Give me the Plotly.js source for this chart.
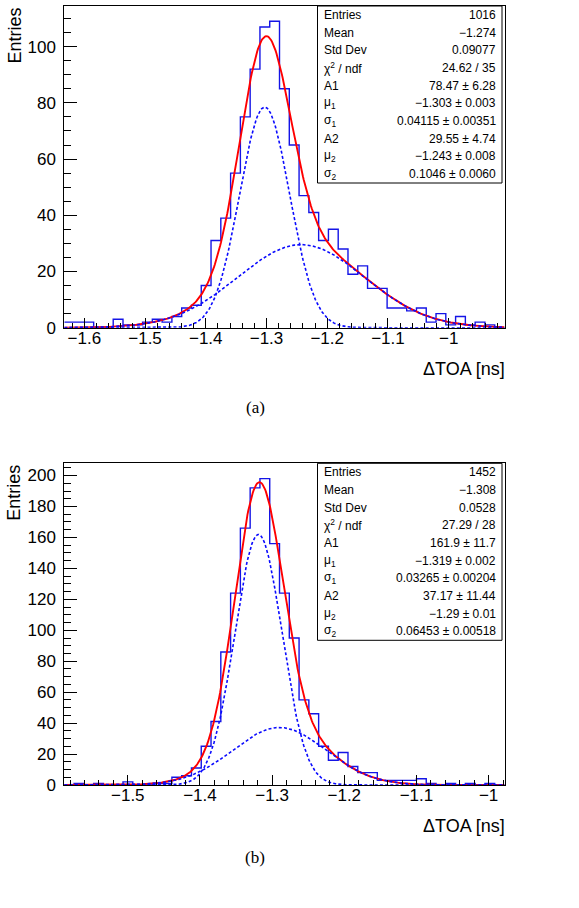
<!DOCTYPE html>
<html>
<head>
<meta charset="utf-8">
<script src="https://cdn.plot.ly/plotly-3.0.1.min.js"></script>
<style>
  html, body { margin: 0; padding: 0; background: #ffffff; }
  #chart { width: 579px; height: 908px; }
</style>
</head>
<body>
<div id="chart"></div>
<script>
// ---- Histogram (a): ΔTOA distribution, 45 equal bins ----
const loA = -1.633;
const hiA = -0.908;
const countsA = [2, 2, 2, 0, 0, 3, 1, 1, 2, 3,
                 2, 4, 7, 8, 15, 31, 39, 55, 75, 92,
                 107, 109, 85, 65, 47, 41, 31, 35, 28, 19,
                 22, 14, 14, 7, 7, 6, 7, 2, 5, 1,
                 4, 1, 2, 1, 0];
// double-Gaussian fit parameters: A1, mu1, sigma1, A2, mu2, sigma2
const fitA = [78.47, -1.303, 0.04115, 29.55, -1.243, 0.1046];
const statsA = ['1016', '\u22121.274', '0.09077', '24.62 / 35',
                '78.47 \u00b1 6.28', '\u22121.303 \u00b1 0.003', '0.04115 \u00b1 0.00351',
                '29.55 \u00b1 4.74', '\u22121.243 \u00b1 0.008', '0.1046 \u00b1 0.0060'];

// ---- Histogram (b) ----
const loB = -1.588;
const hiB = -0.978;
const countsB = [0, 1, 0, 1, 0, 0, 2, 0, 0, 1,
                 1, 5, 6, 11, 25, 41, 86, 124, 166, 192,
                 198, 156, 124, 95, 55, 46, 25, 16, 21, 12,
                 8, 8, 3, 3, 3, 3, 4, 1, 0, 1,
                 0, 1, 0, 1, 0];
const fitB = [161.9, -1.319, 0.03265, 37.17, -1.29, 0.06453];
const statsB = ['1452', '\u22121.308', '0.0528', '27.29 / 28',
                '161.9 \u00b1 11.7', '\u22121.319 \u00b1 0.002', '0.03265 \u00b1 0.00204',
                '37.17 \u00b1 11.44', '\u22121.29 \u00b1 0.01', '0.06453 \u00b1 0.00518'];

// ---- shared labels ----
const statLabels = ['Entries', 'Mean', 'Std Dev', '\u03c7<sup>2</sup> / ndf',
                    'A1', '\u03bc<sub>1</sub>', '\u03c3<sub>1</sub>',
                    'A2', '\u03bc<sub>2</sub>', '\u03c3<sub>2</sub>'];
const xTicksA = [-1.6, -1.5, -1.4, -1.3, -1.2, -1.1, -1.0];
const xTickTextA = ['\u22121.6', '\u22121.5', '\u22121.4', '\u22121.3', '\u22121.2', '\u22121.1', '\u22121'];
const xTicksB = [-1.5, -1.4, -1.3, -1.2, -1.1, -1.0];
const xTickTextB = ['\u22121.5', '\u22121.4', '\u22121.3', '\u22121.2', '\u22121.1', '\u22121'];
const yTicksA = [0, 20, 40, 60, 80, 100];
const yTicksB = [0, 20, 40, 60, 80, 100, 120, 140, 160, 180, 200];
const xTitle = '\u0394TOA [ns]';
const yTitle = 'Entries';
const panelTags = ['(a)', '(b)'];

// ---- page geometry (pixels) ----
const W = 579, H = 908;
const fx = px => px / W;
const fy = py => 1 - py / H;
const frameL = 64.3, frameR = 504.5;
const panelShift = 457.3;          // vertical offset of panel (b)
const frameTop = 6, frameBot = 327.7;

const SANS = 'Liberation Sans, Arial, Helvetica, sans-serif';

function histTrace(lo, hi, counts, xa, ya) {
  const w = (hi - lo) / counts.length;
  const xs = [], ys = [];
  counts.forEach((c, i) => { xs.push(lo + i * w); ys.push(c); });
  xs.push(hi); ys.push(counts[counts.length - 1]);
  return { x: xs, y: ys, type: 'scatter', mode: 'lines', xaxis: xa, yaxis: ya,
           line: { shape: 'hv', color: '#1414e6', width: 1.4 }, hoverinfo: 'skip' };
}

function gaus(A, mu, s, x) { return A * Math.exp(-0.5 * Math.pow((x - mu) / s, 2)); }

function fitTraces(lo, hi, p, xa, ya) {
  const N = 500, xs = [], tot = [], g1 = [], g2 = [];
  for (let i = 0; i <= N; i++) {
    const x = lo + (hi - lo) * i / N;
    const a = gaus(p[0], p[1], p[2], x), b = gaus(p[3], p[4], p[5], x);
    xs.push(x); g1.push(a); g2.push(b); tot.push(a + b);
  }
  const dashed = { color: '#0a0aff', width: 1.6, dash: '3px,2.2px' };
  return [
    { x: xs, y: tot, type: 'scatter', mode: 'lines', xaxis: xa, yaxis: ya,
      line: { color: '#ff0000', width: 1.9 }, hoverinfo: 'skip' },
    { x: xs, y: g1, type: 'scatter', mode: 'lines', xaxis: xa, yaxis: ya, line: dashed, hoverinfo: 'skip' },
    { x: xs, y: g2, type: 'scatter', mode: 'lines', xaxis: xa, yaxis: ya, line: dashed, hoverinfo: 'skip' }
  ];
}

const data = [
  histTrace(loA, hiA, countsA, 'x', 'y'),
  ...fitTraces(loA, hiA, fitA, 'x', 'y'),
  histTrace(loB, hiB, countsB, 'x2', 'y2'),
  ...fitTraces(loB, hiB, fitB, 'x2', 'y2')
];

function xAxis(lo, hi, tv, tt, anchor) {
  return {
    domain: [fx(frameL), fx(frameR)], range: [lo, hi], anchor: anchor,
    showline: true, mirror: true, linecolor: '#000', linewidth: 1,
    showgrid: false, zeroline: false, fixedrange: true,
    ticks: 'inside', ticklen: 10, tickwidth: 1, tickcolor: '#000',
    tickmode: 'array', tickvals: tv, ticktext: tt,
    ticklabelstandoff: -5,
    minor: { tickmode: 'linear', tick0: -1.6, dtick: 0.02, ticks: 'inside', ticklen: 5, tickwidth: 1, tickcolor: '#000' },
    tickfont: { family: SANS, size: 17, color: '#000' }
  };
}
function yAxis(ymax, tv, top, bot, anchor) {
  return {
    domain: [fy(bot), fy(top)], range: [0, ymax], anchor: anchor,
    showline: true, mirror: true, linecolor: '#000', linewidth: 1,
    showgrid: false, zeroline: false, fixedrange: true,
    ticks: 'inside', ticklen: 13, tickwidth: 1, tickcolor: '#000',
    tickmode: 'array', tickvals: tv, ticktext: tv.map(String),
    ticklabelstandoff: 4,
    minor: { tickmode: 'linear', tick0: 0, dtick: 5, ticks: 'inside', ticklen: 6.5, tickwidth: 1, tickcolor: '#000' },
    tickfont: { family: SANS, size: 17, color: '#000' }
  };
}

const annotations = [];
const shapes = [];

function panelDecor(off, labels, values, tag) {
  const boxL = 317.5, boxR = 502, boxT = frameTop + off, boxB = 183 + off;
  shapes.push({ type: 'rect', xref: 'paper', yref: 'paper', layer: 'above',
    x0: fx(boxL), x1: fx(boxR), y0: fy(boxB), y1: fy(boxT),
    line: { color: '#000', width: 1 }, fillcolor: '#fff' });
  const rowH = (boxB - boxT) / labels.length;
  labels.forEach((lab, i) => {
    const yc = boxT + rowH * (i + 0.5);
    annotations.push({ xref: 'paper', yref: 'paper', x: fx(boxL + 4), y: fy(yc),
      xanchor: 'left', yanchor: 'middle', text: lab, showarrow: false,
      font: { family: SANS, size: 12, color: '#000' } });
    annotations.push({ xref: 'paper', yref: 'paper', x: fx(boxR - 4.5), y: fy(yc),
      xanchor: 'right', yanchor: 'middle', text: values[i], showarrow: false,
      font: { family: SANS, size: 12, color: '#000' } });
  });
  annotations.push({ xref: 'paper', yref: 'paper', x: fx(507), y: fy(369 + off),
    xanchor: 'right', yanchor: 'middle', text: xTitle, showarrow: false,
    font: { family: SANS, size: 18, color: '#000' } });
  annotations.push({ xref: 'paper', yref: 'paper', x: fx(14.5), y: fy(6 + off),
    xanchor: 'center', yanchor: 'top', text: yTitle, textangle: -90, showarrow: false,
    font: { family: SANS, size: 18, color: '#000' } });
  annotations.push({ xref: 'paper', yref: 'paper', x: fx(255), y: fy(408 + off * 0.982),
    xanchor: 'center', yanchor: 'middle', text: tag, showarrow: false,
    font: { family: 'Liberation Serif, DejaVu Serif, serif', size: 17, color: '#000' } });
}

panelDecor(0, statLabels, statsA, panelTags[0]);
panelDecor(panelShift, statLabels, statsB, panelTags[1]);

const maxA = Math.max(...countsA) * 1.05;
const maxB = Math.max(...countsB) * 1.05;

const layout = {
  width: W, height: H,
  margin: { l: 0, r: 0, t: 0, b: 0 },
  paper_bgcolor: '#fff', plot_bgcolor: '#fff',
  showlegend: false,
  xaxis: xAxis(loA, hiA, xTicksA, xTickTextA, 'y'),
  yaxis: yAxis(maxA, yTicksA, frameTop, frameBot, 'x'),
  xaxis2: xAxis(loB, hiB, xTicksB, xTickTextB, 'y2'),
  yaxis2: yAxis(maxB, yTicksB, frameTop + panelShift, frameBot + panelShift, 'x2'),
  shapes: shapes,
  annotations: annotations
};

Plotly.newPlot('chart', data, layout, { displayModeBar: false, staticPlot: true });
</script>
</body>
</html>
